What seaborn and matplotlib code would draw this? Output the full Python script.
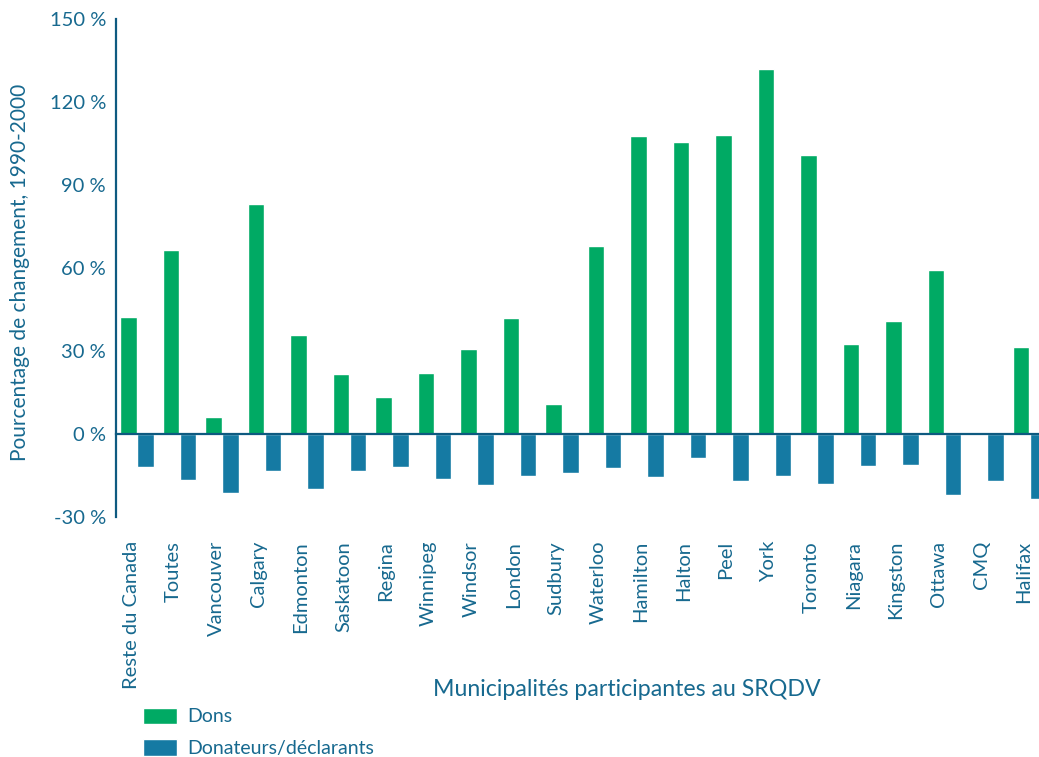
import pandas as pd
import seaborn as sns
import matplotlib.pyplot as plt
from matplotlib.transforms import ScaledTranslation
from matplotlib.ticker import FixedLocator, FuncFormatter

municipalites = ["Reste du Canada", "Toutes", "Vancouver", "Calgary", "Edmonton",
                 "Saskatoon", "Regina", "Winnipeg", "Windsor", "London", "Sudbury",
                 "Waterloo", "Hamilton", "Halton", "Peel", "York", "Toronto",
                 "Niagara", "Kingston", "Ottawa", "CMQ", "Halifax"]
dons = [42.2, 66.4, 6.1, 83.0, 35.7, 21.7, 13.4, 22.0, 30.7, 41.9, 10.8,
        67.9, 107.6, 105.4, 108.0, 132.1, 100.7, 32.5, 40.8, 59.2, 0.0, 31.4]
donateurs = [-11.9, -16.6, -21.3, -13.4, -19.9, -13.4, -11.9, -16.2, -18.4, -15.2, -14.1,
             -12.3, -15.5, -8.7, -17.0, -15.2, -18.1, -11.6, -11.2, -22.0, -17.0, -23.5]
series = ["Dons", "Donateurs/déclarants"]
yticks = [-30, 0, 30, 60, 90, 120, 150]

df = pd.DataFrame({
    "Municipalité": municipalites * 2,
    "Série": [series[0]] * len(municipalites) + [series[1]] * len(municipalites),
    "Valeur": dons + donateurs,
})

sns.set_style("white")
plt.rcParams["font.family"] = ["Lato", "DejaVu Sans"]

text_col = "#17698f"
axis_col = "#0e5a80"
green = "#00aa64"
blue = "#157aa3"

fig = plt.figure(figsize=(10.39, 7.57), dpi=100)
ax = fig.add_axes([115.8 / 1039, 1 - 517 / 757, 935 / 1039, 498 / 757])

sns.barplot(data=df, x="Municipalité", y="Valeur", hue="Série", palette=[green, blue],
            width=0.8, gap=0.05, saturation=1, ax=ax, legend=True)

ax.set_xlim(-0.5, len(municipalites) - 0.5)
ax.set_ylim(-30, 150)
ax.set_yticks(yticks)
ax.yaxis.set_major_formatter(FuncFormatter(lambda v, p: f"{v:.0f} %"))

for s in ["top", "right"]:
    ax.spines[s].set_visible(False)
ax.spines["left"].set_color(axis_col)
ax.spines["left"].set_linewidth(1.6)
ax.spines["bottom"].set_position(("data", 0))
ax.spines["bottom"].set_color(axis_col)
ax.spines["bottom"].set_linewidth(1.6)

ax.tick_params(axis="y", direction="in", length=16, width=1.6, color=axis_col,
               labelcolor=text_col, labelsize=14.5, pad=7)
ax.set_xticks(range(len(municipalites)))
ax.set_xticklabels(municipalites, rotation=90, va="top", ha="center")
ax.tick_params(axis="x", which="major", length=0, labelcolor=text_col, labelsize=14.5, pad=77)
ax.xaxis.set_minor_locator(FixedLocator([i + 0.5 for i in range(len(municipalites))]))
ax.tick_params(axis="x", which="minor", direction="in", length=8.5, width=1.6, color=axis_col)
for lab in ax.get_xticklabels():
    lab.set_transform(lab.get_transform() + ScaledTranslation(-0.06, 0, fig.dpi_scale_trans))

ax.set_xlabel("")
ax.set_ylabel("")
fig.text(20 / 1039, 1 - 272 / 757, "Pourcentage de changement, 1990-2000", rotation=90,
         ha="center", va="center", color=text_col, fontsize=15)
fig.text(627 / 1039, 1 - 690 / 757, "Municipalités participantes au SRQDV",
         ha="center", va="center", color=text_col, fontsize=16.7)

handles, labels = ax.get_legend_handles_labels()
ax.get_legend().remove()
fig.legend(handles, labels, loc="upper left", bbox_to_anchor=(129 / 1039, 1 - 694 / 757),
           frameon=False, fontsize=14, labelcolor=text_col, handlelength=1.75,
           handleheight=0.9, handletextpad=0.55, labelspacing=0.72, borderpad=0.2)

fig.savefig("out.png", dpi=100)
